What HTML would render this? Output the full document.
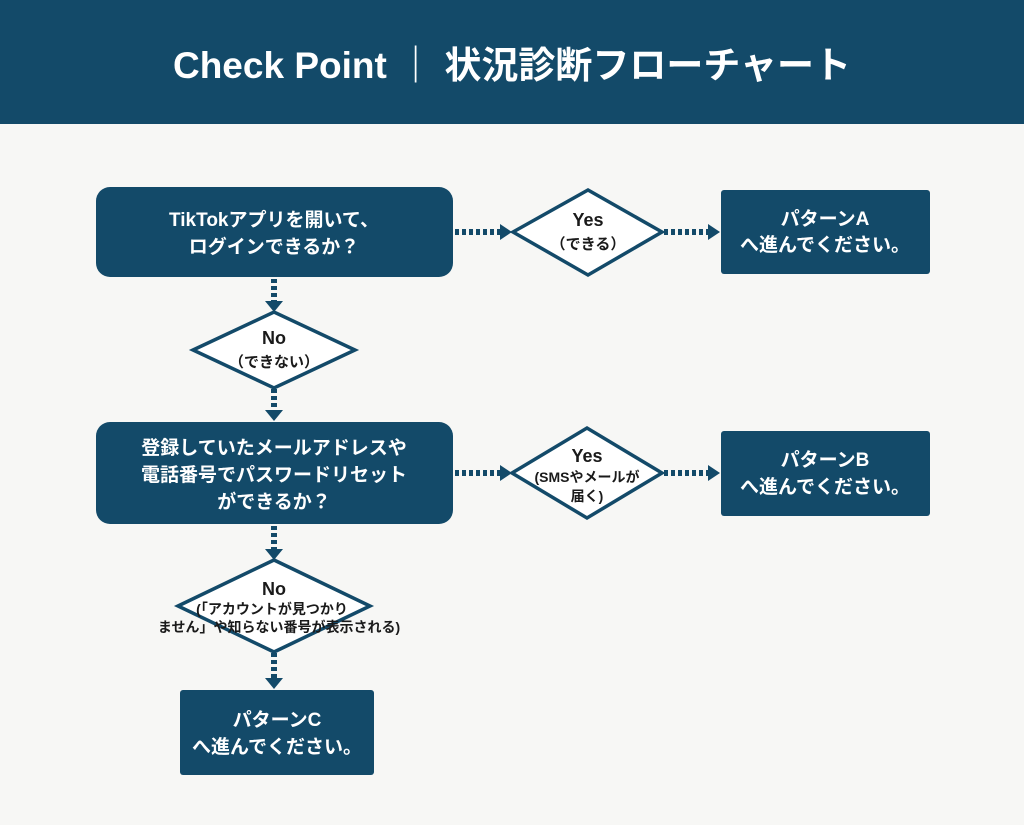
<!DOCTYPE html>
<html><head><meta charset="utf-8"><style>
body{margin:0;width:1024px;height:825px;background:#f7f7f5;overflow:hidden;font-family:"Liberation Sans","Noto Sans CJK JP",sans-serif;}
</style></head><body>
<svg width="1024" height="825" viewBox="0 0 1024 825" xmlns="http://www.w3.org/2000/svg" style="position:absolute;left:0;top:0">
<rect x="0" y="0" width="1024" height="124" fill="#134a69"/>
<text x="512" y="78" fill="#fff" font-size="37" font-weight="bold" text-anchor="middle" font-family="Liberation Sans,Noto Sans CJK JP,sans-serif">Check Point ｜ 状況診断フローチャート</text>
<g font-family="Liberation Sans,Noto Sans CJK JP,sans-serif" font-weight="bold" text-anchor="middle">
<g fill="#134a69">
<rect x="96" y="187" width="357" height="90" rx="14"/>
<rect x="96" y="422" width="357" height="102" rx="14"/>
<rect x="721" y="190" width="209" height="84" rx="3"/>
<rect x="721" y="431" width="209" height="85" rx="3"/>
<rect x="180" y="690" width="194" height="85" rx="3"/>
</g>
<g fill="#fff" stroke="#134a69" stroke-width="3.5">
<polygon points="513,232 588,190 662,232 588,275"/>
<polygon points="193,350 274,312 355,350 274,388"/>
<polygon points="512,473 587,428 662,473 587,518"/>
<polygon points="178,606 274,560 370,606 274,652"/>
</g>
<g stroke="#134a69" stroke-width="6" stroke-dasharray="4,3">
<line x1="455" y1="232" x2="500" y2="232"/>
<line x1="664" y1="232" x2="708" y2="232"/>
<line x1="455" y1="473" x2="500" y2="473"/>
<line x1="664" y1="473" x2="708" y2="473"/>
<line x1="274" y1="279" x2="274" y2="302"/>
<line x1="274" y1="389" x2="274" y2="411"/>
<line x1="274" y1="526" x2="274" y2="550"/>
<line x1="274" y1="653" x2="274" y2="679"/>
</g>
<g fill="#134a69">
<polygon points="500,224 512,232 500,240"/>
<polygon points="708,224 720,232 708,240"/>
<polygon points="500,465 512,473 500,481"/>
<polygon points="708,465 720,473 708,481"/>
<polygon points="265,301 283,301 274,312"/>
<polygon points="265,410 283,410 274,421"/>
<polygon points="265,549 283,549 274,560"/>
<polygon points="265,678 283,678 274,689"/>
</g>
<g fill="#fff" font-size="19">
<text x="274" y="226">TikTokアプリを開いて、</text>
<text x="274" y="253">ログインできるか？</text>
<text x="274" y="454">登録していたメールアドレスや</text>
<text x="274" y="481">電話番号でパスワードリセット</text>
<text x="274" y="508">ができるか？</text>
<text x="825" y="225">パターンA</text>
<text x="825" y="251">へ進んでください。</text>
<text x="825" y="466">パターンB</text>
<text x="825" y="493">へ進んでください。</text>
<text x="277" y="726">パターンC</text>
<text x="277" y="753">へ進んでください。</text>
</g>
<g fill="#1a1a1a">
<text x="588" y="226" font-size="18">Yes</text>
<text x="588" y="249" font-size="15">（できる）</text>
<text x="274" y="344" font-size="18">No</text>
<text x="274" y="367" font-size="15">（できない）</text>
<text x="587" y="462" font-size="18">Yes</text>
<text x="587" y="482" font-size="14">(SMSやメールが</text>
<text x="587" y="501" font-size="14">届く)</text>
<text x="274" y="595" font-size="18">No</text>
<text x="272" y="614" font-size="14">(「アカウントが見つかり</text>
<text x="279" y="632" font-size="14">ません」や知らない番号が表示される)</text>
</g>
</g>
</svg>
</body></html>
